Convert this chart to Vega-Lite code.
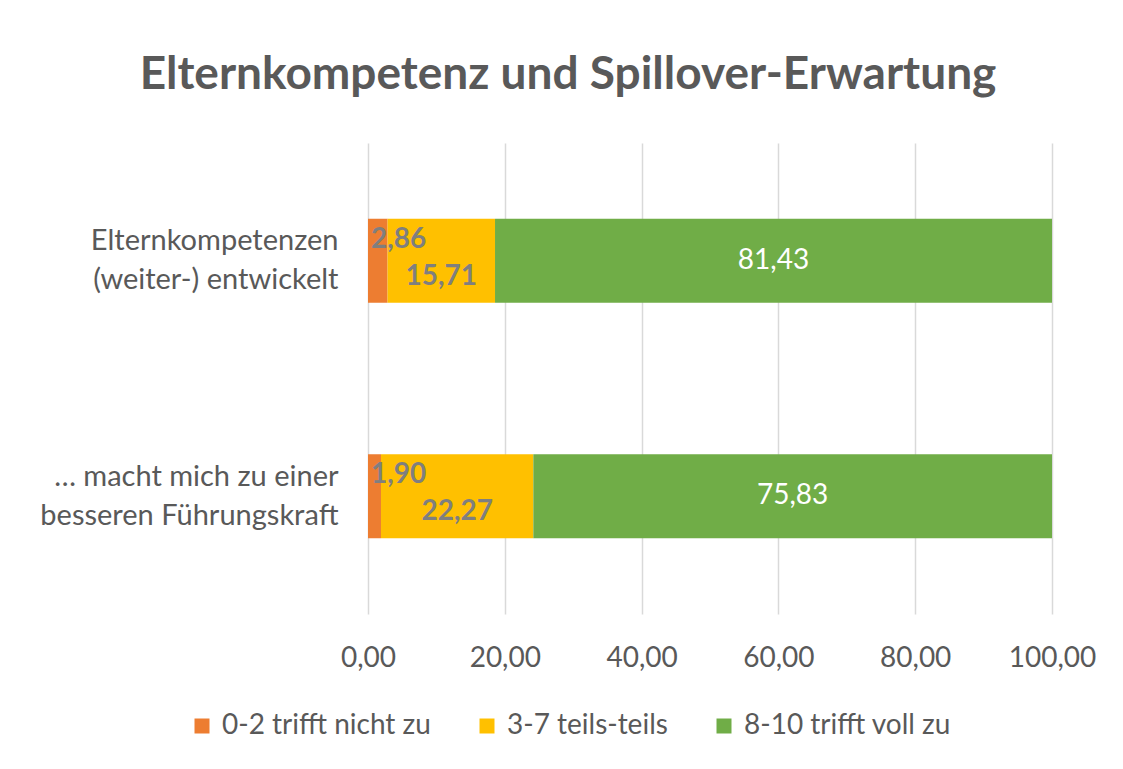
{
  "$schema": "https://vega.github.io/schema/vega-lite/v6.json",
  "width": 684,
  "height": 471,
  "autosize": "none",
  "padding": {"left": 368, "top": 143, "right": 71, "bottom": 155},
  "background": "white",
  "title": {
    "text": "Elternkompetenz und Spillover-Erwartung",
    "anchor": "middle",
    "frame": "group",
    "dx": -142,
    "offset": 44,
    "font": "Lato",
    "fontSize": 46,
    "fontWeight": "bold",
    "color": "#595959"
  },
  "config": {
    "font": "Lato",
    "view": {"stroke": null},
    "locale": {"number": {"decimal": ",", "thousands": ".", "grouping": [3], "currency": ["", " €"]}}
  },
  "data": {
    "values": [
      {"item": "Elternkompetenzen (weiter-) entwickelt", "cat": "0-2 trifft nicht zu", "order": 1, "value": 2.86},
      {"item": "Elternkompetenzen (weiter-) entwickelt", "cat": "3-7 teils-teils", "order": 2, "value": 15.71},
      {"item": "Elternkompetenzen (weiter-) entwickelt", "cat": "8-10 trifft voll zu", "order": 3, "value": 81.43},
      {"item": "… macht mich zu einer besseren Führungskraft", "cat": "0-2 trifft nicht zu", "order": 1, "value": 1.90},
      {"item": "… macht mich zu einer besseren Führungskraft", "cat": "3-7 teils-teils", "order": 2, "value": 22.27},
      {"item": "… macht mich zu einer besseren Führungskraft", "cat": "8-10 trifft voll zu", "order": 3, "value": 75.83}
    ]
  },
  "transform": [
    {"stack": "value", "groupby": ["item"], "sort": [{"field": "order", "order": "ascending"}], "as": ["x0", "x1"]},
    {"calculate": "(datum.x0 + datum.x1) / 2", "as": "mid"}
  ],
  "encoding": {
    "y": {
      "field": "item",
      "type": "nominal",
      "sort": ["Elternkompetenzen (weiter-) entwickelt", "… macht mich zu einer besseren Führungskraft"],
      "scale": {"paddingInner": 0.643, "paddingOuter": 0.3215},
      "axis": {
        "title": null,
        "domain": false,
        "ticks": false,
        "labelPadding": 30,
        "labelFontSize": 29,
        "labelColor": "#595959",
        "labelLineHeight": 39,
        "labelOffset": -19.5,
        "labelLimit": 400,
        "labelExpr": "datum.value == 'Elternkompetenzen (weiter-) entwickelt' ? ['Elternkompetenzen', '(weiter-) entwickelt'] : ['… macht mich zu einer', 'besseren Führungskraft']"
      }
    }
  },
  "layer": [
    {
      "mark": {"type": "bar"},
      "encoding": {
        "x": {
          "field": "x0",
          "type": "quantitative",
          "scale": {"domain": [0, 100]},
          "axis": {
            "title": null,
            "values": [0, 20, 40, 60, 80, 100],
            "format": ".2f",
            "domain": false,
            "ticks": false,
            "grid": true,
            "gridColor": "#d9d9d9",
            "gridWidth": 1.5,
            "labelFlush": false,
            "labelOverlap": false,
            "labelBound": false,
            "labelPadding": 30,
            "labelFontSize": 28,
            "labelColor": "#595959"
          }
        },
        "x2": {"field": "x1"},
        "color": {
          "field": "cat",
          "type": "nominal",
          "scale": {
            "domain": ["0-2 trifft nicht zu", "3-7 teils-teils", "8-10 trifft voll zu"],
            "range": ["#ED7D31", "#FFC000", "#70AD47"]
          },
          "legend": {
            "title": null,
            "orient": "none",
            "legendX": -180,
            "legendY": 569,
            "direction": "horizontal",
            "symbolType": "square",
            "symbolSize": 225,
            "symbolStrokeWidth": 0,
            "labelFontSize": 28,
            "labelColor": "#595959",
            "labelOffset": 6,
            "columnPadding": 42,
            "labelLimit": 400
          }
        }
      }
    },
    {
      "transform": [{"filter": "datum.order == 1"}],
      "mark": {"type": "text", "align": "left", "baseline": "middle", "dx": 3, "dy": -21, "fontSize": 28, "fontWeight": "bold", "color": "#7F7F7F"},
      "encoding": {
        "x": {"field": "x0", "type": "quantitative"},
        "text": {"field": "value", "type": "quantitative", "format": ".2f"}
      }
    },
    {
      "transform": [{"filter": "datum.order == 2"}],
      "mark": {"type": "text", "align": "center", "baseline": "middle", "dy": 16, "fontSize": 28, "fontWeight": "bold", "color": "#7F7F7F"},
      "encoding": {
        "x": {"field": "mid", "type": "quantitative"},
        "text": {"field": "value", "type": "quantitative", "format": ".2f"}
      }
    },
    {
      "transform": [{"filter": "datum.order == 3"}],
      "mark": {"type": "text", "align": "center", "baseline": "middle", "fontSize": 28, "color": "#FFFFFF"},
      "encoding": {
        "x": {"field": "mid", "type": "quantitative"},
        "text": {"field": "value", "type": "quantitative", "format": ".2f"}
      }
    }
  ]
}
